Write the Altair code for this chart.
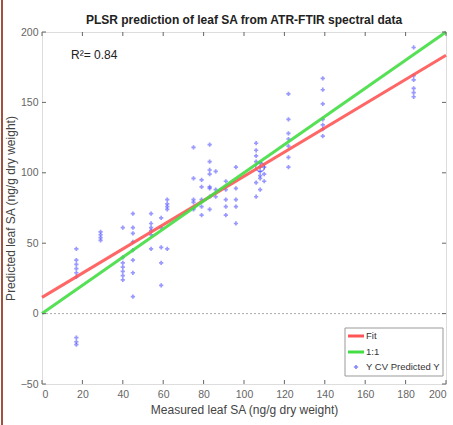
import altair as alt
import pandas as pd

# measured values (x groups) and predicted values
x_groups = [17, 29, 40, 45, 54, 59, 62, 75, 79, 83, 86, 91, 96, 106, 108, 110, 122, 139, 184]
y_groups = [
    [46, 38, 35, 32, 29, 26, -17, -20, -22],
    [58, 56, 54, 52],
    [61, 40, 36, 33, 30, 27, 24],
    [71, 61, 57, 51, 45, 38, 29, 12],
    [71, 64, 61, 59, 56, 46],
    [68, 61, 47, 36, 20],
    [81, 78, 76, 74, 46],
    [118, 96, 81, 79, 75, 74],
    [95, 90, 81, 76, 70],
    [120, 108, 102, 99, 90, 89, 83, 74],
    [101, 88, 83],
    [94, 88, 81, 76, 70],
    [104, 89, 81, 76, 64],
    [121, 116, 112, 108, 93, 83],
    [107, 104, 101, 98, 96, 88],
    [104, 99, 94],
    [156, 138, 128, 124, 119, 111, 104],
    [167, 159, 149, 138, 134, 131, 126],
    [189, 169, 166, 160, 157, 154],
]
fit_x = [0, 200]
fit_y = [11.5, 183.5]
one_x = [0, 200]
one_y = [0, 200]
highlight_x = [108]
highlight_y = [104]
x_ticks = [0, 20, 40, 60, 80, 100, 120, 140, 160, 180, 200]
y_ticks = [-50, 0, 50, 100, 150, 200]
title_text = "PLSR prediction of leaf SA from ATR-FTIR spectral data"

rows = []
for xv, ys in zip(x_groups, y_groups):
    for yv in ys:
        rows.append({"x": xv, "y": yv})
pts = pd.DataFrame(rows)
fit = pd.DataFrame({"x": fit_x, "y": fit_y})
one = pd.DataFrame({"x": one_x, "y": one_y})
hl = pd.DataFrame({"x": highlight_x, "y": highlight_y})
zero = pd.DataFrame({"x": [0, 200], "y": [0, 0]})
xt = pd.DataFrame({"t": x_ticks})
yt = pd.DataFrame({"t": y_ticks})
one_row = pd.DataFrame({"a": [0]})

W, H = 404, 352
xs = alt.Scale(domain=[0, 200], nice=False, zero=False)
ys = alt.Scale(domain=[-50, 200], nice=False, zero=False)
font = "Liberation Sans"

xaxis = alt.Axis(values=x_ticks, tickSize=0, labelPadding=5, labelFontSize=10.5,
                 labelColor="#666", title="Measured leaf SA (ng/g dry weight)",
                 titleFontSize=12, titleFontWeight="normal", titleColor="#444",
                 titlePadding=5, domain=False, grid=False, labelFont=font, titleFont=font)
yaxis = alt.Axis(values=y_ticks, tickSize=0, labelPadding=4, labelFontSize=10.5,
                 labelColor="#666", title="Predicted leaf SA (ng/g dry weight)",
                 titleFontSize=12, titleFontWeight="normal", titleColor="#444",
                 titlePadding=3, domain=False, grid=False, labelFont=font, titleFont=font)

base_pts = alt.Chart(pts).mark_point(shape="cross", filled=True, size=18, color="#5555ff", opacity=0.6).encode(
    x=alt.X("x:Q", scale=xs, axis=xaxis),
    y=alt.Y("y:Q", scale=ys, axis=yaxis),
)
zero_line = alt.Chart(zero).mark_line(color="#aaa", strokeDash=[2, 2], strokeWidth=1).encode(
    x=alt.X("x:Q", scale=xs), y=alt.Y("y:Q", scale=ys))
fit_line = alt.Chart(fit).mark_line(color="#ff5555", strokeWidth=3, opacity=0.9).encode(
    x=alt.X("x:Q", scale=xs), y=alt.Y("y:Q", scale=ys))
one_line = alt.Chart(one).mark_line(color="#44dd44", strokeWidth=3, opacity=0.9).encode(
    x=alt.X("x:Q", scale=xs), y=alt.Y("y:Q", scale=ys))
hl_pt = alt.Chart(hl).mark_point(shape="circle", size=80, color="#5555ff", strokeWidth=1.2, opacity=0.7).encode(
    x=alt.X("x:Q", scale=xs), y=alt.Y("y:Q", scale=ys))

tick_color = "#666"
bt = alt.Chart(xt).mark_rule(color=tick_color).encode(
    x=alt.X("t:Q", scale=xs), y=alt.value(H), y2=alt.value(H - 4))
tt = alt.Chart(xt).mark_rule(color=tick_color).encode(
    x=alt.X("t:Q", scale=xs), y=alt.value(0), y2=alt.value(4))
lt = alt.Chart(yt).mark_rule(color=tick_color).encode(
    y=alt.Y("t:Q", scale=ys), x=alt.value(0), x2=alt.value(4))
rt = alt.Chart(yt).mark_rule(color=tick_color).encode(
    y=alt.Y("t:Q", scale=ys), x=alt.value(W), x2=alt.value(W - 4))

title = alt.Chart(one_row).mark_text(
    align="center", baseline="alphabetic", fontSize=12, fontWeight="bold", font=font, color="#222").encode(
    x=alt.value(W / 2), y=alt.value(-8), text=alt.value(title_text))

r2 = alt.Chart(one_row).mark_text(
    align="left", baseline="middle", fontSize=12, font=font, color="#222").encode(
    x=alt.value(29), y=alt.value(23), text=alt.value("R\u00b2= 0.84"))

# manual legend
lt_size = 9.5
leg_box = alt.Chart(one_row).mark_rect(
    fill="white", stroke="#999", strokeWidth=1).encode(
    x=alt.value(303), x2=alt.value(401), y=alt.value(296), y2=alt.value(344))
leg_fit = alt.Chart(one_row).mark_rule(color="#ff5555", strokeWidth=3).encode(
    x=alt.value(306), x2=alt.value(322), y=alt.value(304))
leg_one = alt.Chart(one_row).mark_rule(color="#44dd44", strokeWidth=3).encode(
    x=alt.value(306), x2=alt.value(322), y=alt.value(320))
leg_pt = alt.Chart(one_row).mark_point(shape="cross", filled=True, size=18, color="#5555ff").encode(
    x=alt.value(314), y=alt.value(335))
leg_t1 = alt.Chart(one_row).mark_text(align="left", baseline="middle", fontSize=lt_size, font=font, color="#333").encode(
    x=alt.value(324), y=alt.value(304), text=alt.value("Fit"))
leg_t2 = alt.Chart(one_row).mark_text(align="left", baseline="middle", fontSize=lt_size, font=font, color="#333").encode(
    x=alt.value(324), y=alt.value(320), text=alt.value("1:1"))
leg_t3 = alt.Chart(one_row).mark_text(align="left", baseline="middle", fontSize=lt_size, font=font, color="#333").encode(
    x=alt.value(324), y=alt.value(335), text=alt.value("Y CV Predicted Y"))

border = alt.Chart(one_row).mark_rule(color="#a0523f", strokeWidth=2).encode(
    x=alt.value(-40), y=alt.value(-32), y2=alt.value(393))

chart = alt.layer(
    border, zero_line, base_pts, hl_pt, fit_line, one_line, bt, tt, lt, rt, title, r2,
    leg_box, leg_fit, leg_one, leg_pt, leg_t1, leg_t2, leg_t3,
).properties(
    width=W, height=H,
    autosize=alt.AutoSizeParams(type="none"),
    padding={"left": 42, "top": 32, "right": 7, "bottom": 41},
).configure_view(stroke="#777", strokeWidth=1).configure(background="white")

chart.save("out.html", embed_options={"renderer": "svg", "actions": False})
